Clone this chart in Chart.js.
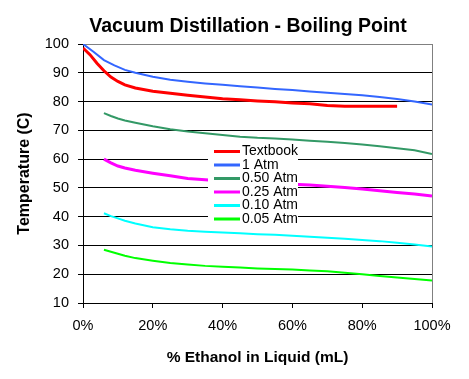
<!DOCTYPE html>
<html><head><meta charset="utf-8">
<script src="https://cdn.jsdelivr.net/npm/chart.js@4"></script>
<style>html,body{margin:0;padding:0;background:#fff;}</style>
</head><body>
<canvas id="c" width="469" height="379"></canvas>
<script>
const chartTitle = "Vacuum Distillation - Boiling Point";
const seriesNames = ["Textbook", "1 Atm", "0.50 Atm", "0.25 Atm", "0.10 Atm", "0.05 Atm"];
const seriesColors = ["#FF0000", "#3366FF", "#339966", "#FF00FF", "#00FFFF", "#00FF00"];
const seriesWidths = [3, 2, 2, 3, 2, 2];

const textbookX = [0, 2, 4, 6, 8, 10, 12, 15, 20, 25, 30, 35, 40, 45, 50, 55, 60, 65, 70, 75, 80, 85, 90];
const textbookT = [98.6, 96.3, 93.3, 90.7, 88.5, 87.0, 85.8, 84.7, 83.6, 82.9, 82.2, 81.6, 81.0, 80.6, 80.2, 79.9, 79.5, 79.2, 78.6, 78.4, 78.4, 78.4, 78.4];

const atm1X = [0, 3, 6, 9, 12, 15, 20, 25, 30, 35, 40, 45, 50, 55, 60, 65, 70, 75, 80, 85, 90, 95, 100];
const atm1T = [100, 97.3, 94.4, 92.6, 91.0, 90.0, 88.6, 87.6, 86.9, 86.3, 85.8, 85.3, 84.9, 84.4, 84.0, 83.5, 83.1, 82.6, 82.2, 81.6, 80.9, 80.0, 79.0];

const lowX = [6, 8, 10, 12, 15, 20, 25, 30, 35, 40, 45, 50, 55, 60, 65, 70, 75, 80, 85, 90, 95, 100];
const atm050T = [76.0, 75.0, 74.1, 73.4, 72.6, 71.4, 70.4, 69.6, 69.0, 68.4, 67.8, 67.4, 67.2, 66.8, 66.4, 66.0, 65.6, 65.1, 64.5, 63.8, 63.1, 61.8];
const atm025T = [60.0, 58.7, 57.6, 56.9, 56.1, 55.1, 54.2, 53.3, 52.8, 52.4, 52.1, 51.8, 51.6, 51.3, 51.0, 50.6, 50.1, 49.6, 49.0, 48.4, 47.9, 47.2];
const atm010T = [41.2, 40.2, 39.4, 38.6, 37.6, 36.3, 35.6, 35.1, 34.8, 34.5, 34.2, 33.9, 33.7, 33.4, 33.0, 32.7, 32.3, 31.9, 31.5, 30.9, 30.3, 29.6];
const atm005T = [28.5, 27.8, 27.1, 26.4, 25.6, 24.7, 23.9, 23.4, 22.9, 22.6, 22.3, 22.0, 21.8, 21.6, 21.3, 21.0, 20.5, 20.0, 19.4, 18.9, 18.3, 17.8];

const xTicks = [0, 20, 40, 60, 80, 100];
const yTicks = [10, 20, 30, 40, 50, 60, 70, 80, 90, 100];

const seriesX = [textbookX, atm1X, lowX, lowX, lowX, lowX];
const seriesY = [textbookT, atm1T, atm050T, atm025T, atm010T, atm005T];

const FONT = "Arial, 'Liberation Sans', sans-serif";

const datasets = seriesNames.map((name, i) => ({
  label: name,
  data: seriesX[i].map((x, j) => ({ x: x, y: seriesY[i][j] })),
  borderColor: seriesColors[i],
  backgroundColor: seriesColors[i],
  borderWidth: seriesWidths[i],
  showLine: true,
  pointRadius: 0,
  tension: 0,
  fill: false
}));

const boxLegend = {
  id: 'boxLegend',
  afterDatasetsDraw(chart) {
    const ctx = chart.ctx;
    const a = chart.chartArea;
    const left = a.left + 125, top = a.top + 99, w = 90, h = 84;
    ctx.save();
    ctx.fillStyle = '#fff';
    ctx.fillRect(left, top, w, h);
    ctx.font = "14px " + FONT;
    ctx.textBaseline = 'middle';
    ctx.textAlign = 'left';
    chart.data.datasets.forEach((ds, i) => {
      const y = top + 8.5 + i * 13.5;
      ctx.strokeStyle = ds.borderColor;
      ctx.lineWidth = 3;
      ctx.beginPath();
      ctx.moveTo(left + 6, y);
      ctx.lineTo(left + 32, y);
      ctx.stroke();
      ctx.fillStyle = '#000';
      ctx.fillText(ds.label, left + 34, y);
    });
    ctx.restore();
  }
};

const topTitle = {
  id: 'topTitle',
  afterDraw(chart) {
    const ctx = chart.ctx;
    ctx.save();
    ctx.font = "bold 19.5px " + FONT;
    ctx.fillStyle = '#000';
    ctx.textAlign = 'center';
    ctx.textBaseline = 'middle';
    ctx.fillText(chartTitle, 248, 26.5);
    ctx.restore();
  }
};

new Chart(document.getElementById('c'), {
  type: 'scatter',
  data: { datasets: datasets },
  plugins: [boxLegend, topTitle],
  options: {
    responsive: false,
    animation: false,
    devicePixelRatio: 1,
    layout: { padding: { left: 0, right: 37, top: 44, bottom: 0 } },
    plugins: {
      legend: { display: false },
      tooltip: { enabled: false },
      title: { display: false }
    },
    scales: {
      x: {
        type: 'linear',
        min: 0, max: 100,
        afterFit(s) { s.height = 76; },
        afterBuildTicks(s) { s.ticks = xTicks.map(v => ({ value: v })); },
        ticks: {
          color: '#000',
          font: { family: FONT, size: 14.5 },
          padding: 9.5,
          maxRotation: 0,
          callback: v => v + '%'
        },
        grid: {
          drawOnChartArea: true,
          color: c => (c.tick && c.tick.value === 100) ? '#808080' : 'rgba(0,0,0,0)',
          tickColor: '#000',
          tickLength: 5,
          lineWidth: 1
        },
        border: { display: true, color: '#000', width: 1 },
        title: {
          display: true,
          text: '% Ethanol in Liquid (mL)',
          color: '#000',
          font: { family: FONT, size: 15.5, weight: 'bold' },
          padding: { top: 0, bottom: 12 }
        }
      },
      y: {
        type: 'linear',
        min: 10, max: 100,
        afterFit(s) { s.width = 83; },
        afterBuildTicks(s) { s.ticks = yTicks.map(v => ({ value: v })); },
        ticks: {
          color: '#000',
          font: { family: FONT, size: 14.5 },
          padding: 9
        },
        grid: {
          color: c => (c.tick && c.tick.value === 100) ? '#808080' : '#000',
          tickColor: '#000',
          tickLength: 5,
          lineWidth: 1
        },
        border: { display: true, color: '#000', width: 1 },
        title: {
          display: true,
          text: 'Temperature (C)',
          color: '#000',
          font: { family: FONT, size: 16, weight: 'bold' },
          padding: { top: 15, bottom: 0 }
        }
      }
    }
  }
});
</script>
</body></html>
